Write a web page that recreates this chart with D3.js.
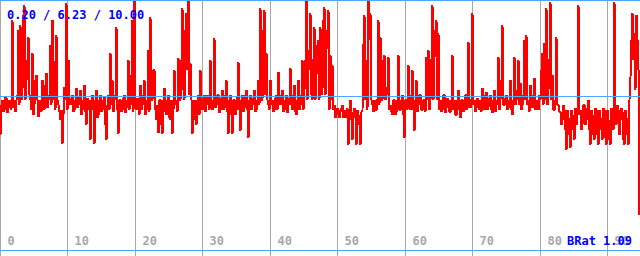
<!DOCTYPE html>
<html>
<head>
<meta charset="utf-8">
<script src="https://cdn.jsdelivr.net/npm/d3@7"></script>
<style>
  body { margin: 0; background: #fff; }
  svg { display: block; }
  text { font-family: "DejaVu Sans Mono", monospace; font-weight: bold; font-size: 12px; }
</style>
</head>
<body>
<div id="chart"></div>
<script>
const svgWidth = 640;
const svgHeight = 256;

// x axis ticks
const xTicks = [0, 10, 20, 30, 40, 50, 60, 70, 80, 90];

// min / avg / max shown at top left
const stats = [0.20, 6.23, 10.00];
const bratValue = 1.09;

const brat = [
  4.71,5.88,6.08,5.61,5.69,6.20,6.16,5.57,5.76,6.08,
  5.96,5.69,9.22,6.08,5.76,5.61,6.08,6.27,8.82,5.88,
  9.02,6.08,6.47,9.41,9.80,6.08,6.86,7.65,8.55,6.27,
  6.08,5.69,7.92,5.49,5.88,6.86,7.06,6.08,5.41,5.88,
  6.08,5.61,6.86,6.08,5.69,6.67,7.14,5.76,6.08,6.27,
  8.24,5.88,9.22,7.65,6.08,5.69,8.63,6.08,5.88,5.61,
  5.29,5.69,4.35,5.49,6.59,6.08,9.88,5.69,7.65,6.16,
  5.88,6.08,6.27,5.61,5.69,6.08,6.55,5.76,5.88,6.20,
  6.47,5.49,5.69,6.08,6.67,5.61,5.10,6.16,6.08,5.69,
  4.51,6.08,6.27,5.69,4.35,6.08,6.47,5.37,5.49,6.08,
  6.27,5.61,5.69,6.08,6.20,5.10,4.51,5.88,6.27,5.69,
  7.92,5.88,6.86,5.61,6.08,6.27,8.94,5.69,4.75,6.08,
  6.08,5.61,5.69,6.16,6.27,5.57,5.76,6.08,7.65,5.69,
  7.06,5.88,9.22,5.61,10.00,6.08,5.69,6.16,6.08,5.49,
  6.67,5.69,5.88,6.27,6.86,5.49,5.69,6.08,8.04,5.61,
  9.33,6.08,6.08,7.25,7.25,5.69,5.29,5.88,4.78,6.08,
  6.08,5.10,4.75,6.08,6.55,5.61,5.49,6.08,6.27,5.37,
  5.29,6.08,4.75,5.69,7.25,5.88,6.08,5.61,7.73,6.08,
  6.08,7.65,9.69,6.47,6.08,8.82,9.49,7.25,10.00,6.27,
  7.53,6.08,4.75,5.69,6.08,5.29,5.10,6.08,6.27,5.49,
  7.25,5.88,5.69,6.16,6.27,5.61,5.88,6.27,6.08,5.69,
  7.65,5.88,5.69,6.08,8.51,5.76,5.88,6.27,6.27,5.57,
  5.69,6.16,6.47,5.69,5.76,6.27,6.86,5.61,4.75,6.08,
  6.27,5.49,4.75,6.08,6.08,5.49,5.69,6.16,7.57,5.69,
  4.86,6.08,6.27,5.61,5.76,6.27,6.47,5.69,4.59,6.08,
  6.27,5.69,5.88,6.16,6.47,5.61,5.69,6.08,6.86,5.88,
  9.69,6.08,6.08,8.82,9.61,6.27,7.92,6.08,5.88,5.69,
  6.86,5.88,6.08,5.61,5.69,6.16,6.27,5.69,7.18,6.08,
  5.88,6.27,6.47,5.61,5.69,6.08,6.27,5.57,5.88,6.16,
  7.33,5.88,5.69,6.27,6.67,5.61,5.49,6.08,6.86,5.69,
  5.88,6.27,7.65,5.69,6.47,7.65,10.00,6.08,7.25,8.04,
  9.49,6.27,6.08,7.65,8.94,6.08,7.06,8.24,8.43,6.08,
  8.94,6.27,6.47,9.22,9.73,6.27,8.04,8.82,9.61,5.69,
  7.84,6.08,7.45,5.69,5.88,5.37,5.49,5.76,5.69,5.37,
  5.61,5.76,5.88,5.37,5.49,5.69,5.37,5.76,4.31,5.69,
  6.08,5.29,4.51,5.61,5.76,5.37,4.31,5.69,5.49,5.10,
  4.31,5.61,5.69,8.24,9.41,6.08,7.65,5.69,10.00,8.43,
  9.49,6.08,5.88,5.61,6.08,5.69,5.69,6.08,9.22,5.88,
  8.55,6.08,6.08,7.65,7.84,6.08,6.59,6.27,7.76,5.69,
  5.88,5.61,5.49,6.08,6.08,5.49,5.61,6.08,7.84,5.69,
  5.69,6.08,6.27,5.49,4.59,6.08,6.08,5.69,7.45,6.08,
  5.69,6.27,7.25,5.69,4.86,6.08,6.86,5.61,5.88,6.27,
  6.27,5.69,5.69,6.08,6.08,5.61,7.76,6.08,8.04,5.69,
  6.08,7.65,9.80,6.08,7.76,8.82,9.22,6.08,8.71,5.69,
  6.08,5.61,5.69,6.27,6.27,5.57,5.76,6.16,6.08,5.61,
  5.61,6.08,7.84,5.69,6.08,5.49,5.49,6.08,6.47,5.69,
  5.37,6.08,6.08,5.61,5.69,6.27,6.27,5.69,8.35,6.08,
  5.76,6.08,9.49,5.88,6.08,5.61,5.76,6.16,6.00,5.69,
  6.08,5.61,6.55,5.88,5.69,6.27,6.39,5.69,5.80,6.16,
  6.27,5.69,5.57,6.08,6.47,5.61,5.88,6.08,7.76,5.69,
  6.08,6.86,9.02,5.88,5.88,6.16,6.27,5.69,5.76,6.08,
  6.86,5.69,5.49,6.08,7.76,5.88,6.08,6.47,7.65,5.88,
  6.75,5.69,5.88,6.27,8.43,6.08,8.63,5.88,6.08,5.61,
  6.67,5.88,5.76,6.27,6.94,5.69,6.08,5.76,5.69,6.27,
  6.08,7.25,7.92,5.88,8.31,6.08,9.69,5.88,6.47,7.65,
  9.92,6.08,7.06,5.69,5.69,6.08,8.55,5.88,5.88,5.61,
  5.61,5.10,5.29,5.88,5.69,4.90,4.12,5.69,5.37,4.71,
  4.20,5.69,5.49,4.90,4.51,5.76,5.10,5.69,9.80,5.49,
  5.69,4.90,5.10,5.88,5.88,5.10,5.29,5.76,6.08,4.90,
  4.31,5.69,5.49,4.71,4.51,5.76,5.69,4.71,4.31,5.69,
  5.37,4.90,4.51,5.76,5.69,4.59,4.31,5.69,5.29,4.51,
  4.31,5.76,5.49,4.90,9.92,5.69,5.10,5.88,5.69,4.71,
  5.29,5.76,5.61,4.51,4.31,5.69,5.37,4.71,4.31,6.08,
  6.98,8.43,9.49,7.65,8.71,6.47,9.41,8.43,7.25,1.57
];

const xMax = 94.84;
const step = xMax / 640;
const data = brat.map((v, i) => ({ x: i * step, v: v }));

const svg = d3.select("#chart")
  .append("svg")
  .attr("width", svgWidth)
  .attr("height", svgHeight);

const xScale = d3.scaleLinear().domain([0, xMax]).range([0, svgWidth]);
const yScale = d3.scaleLinear().domain([0, 10]).range([255, 0]);

//vertical grid + tick labels
const xAxis = svg.append("g")
  .attr("transform", `translate(0, ${svgHeight})`)
  .call(d3.axisTop(xScale).tickValues(xTicks).tickSize(svgHeight).tickFormat(d3.format("d")));

xAxis.select(".domain").remove();
xAxis.selectAll(".tick")
  .attr("transform", d => `translate(${Math.round(xScale(d)) + 0.5}, 0)`);
xAxis.selectAll(".tick line")
  .style("stroke", "#a8a8a8")
  .attr("shape-rendering", "crispEdges");
xAxis.selectAll(".tick text")
  .attr("x", 7)
  .attr("y", -11)
  .attr("dy", null)
  .attr("text-anchor", "start")
  .style("fill", "#a8a8a8")
  .style("font-size", "12px")
  .style("font-family", "'DejaVu Sans Mono', monospace")
  .style("font-weight", "bold");

// the series
const line = d3.line()
  .x(d => xScale(d.x) + 0.5)
  .y(d => yScale(d.v));

svg.append("path")
  .datum(data)
  .attr("fill", "none")
  .attr("stroke", "#ff0000")
  .attr("stroke-width", 2)
  .attr("stroke-linejoin", "miter")
  .attr("stroke-miterlimit", 1)
  .attr("shape-rendering", "crispEdges")
  .attr("d", line);

// horizontal blue lines: top, average, bottom
const hLines = [0.5, Math.round(yScale(stats[1])) + 0.5, svgHeight - 5.5];
svg.selectAll(".hline")
  .data(hLines)
  .enter()
  .append("line")
  .attr("class", "hline")
  .attr("x1", 0)
  .attr("x2", svgWidth)
  .attr("y1", d => d)
  .attr("y2", d => d)
  .attr("stroke", "#4fa8ff")
  .attr("shape-rendering", "crispEdges");

svg.append("text")
  .attr("x", 7)
  .attr("y", 19)
  .attr("fill", "#0000ff")
  .text(stats.map(d => d.toFixed(2)).join(" / "));

svg.append("text")
  .attr("x", 632)
  .attr("y", 245)
  .attr("text-anchor", "end")
  .attr("fill", "#0000ff")
  .text(`BRat ${bratValue.toFixed(2)}`);
</script>
</body>
</html>
